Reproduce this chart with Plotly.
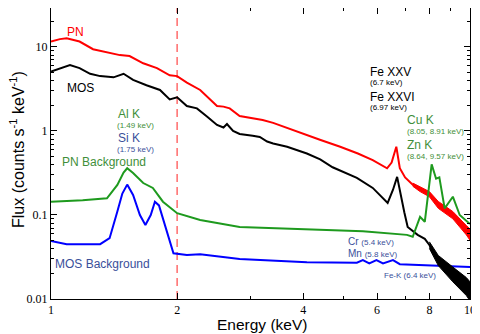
import plotly.graph_objects as go

# ---------------- data ----------------
pn_E = [1.0, 1.05, 1.09, 1.17, 1.26, 1.38, 1.46, 1.54, 1.66, 1.79, 1.92, 2.0, 2.11,
        2.27, 2.40, 2.49, 2.58, 2.67, 2.82, 3.03, 3.2, 3.39, 3.6, 3.93, 4.4, 4.9, 5.4,
        5.86, 6.34, 6.5, 6.67, 6.8, 7.0, 7.3, 7.6, 8.0, 8.4, 9.1, 9.8, 10.0]
pn_F = [11.6, 12.4, 12.7, 11.6, 9.4, 8.4, 8.0, 7.8, 6.4, 5.6, 4.6, 4.5, 3.76,
        3.08, 2.34, 1.98, 1.95, 1.86, 1.51, 1.43, 1.35, 1.25, 1.12, 0.94, 0.78, 0.65, 0.54,
        0.45, 0.36, 0.42, 0.65, 0.36, 0.28, 0.23, 0.2, 0.18, 0.13, 0.10, 0.066, 0.058]

# noise envelope of the PN spectrum at high energy
pn_band_E = [7.3, 7.6, 8.0, 8.4, 9.1, 9.8, 10.0]
pn_band_hi = [0.24, 0.215, 0.19, 0.145, 0.11, 0.075, 0.068]
pn_band_lo = [0.22, 0.19, 0.165, 0.12, 0.09, 0.058, 0.05]

mos_E = [1.0, 1.11, 1.17, 1.24, 1.31, 1.41, 1.49, 1.57, 1.69, 1.82, 1.92, 2.0, 2.11,
         2.23, 2.36, 2.49, 2.58, 2.63, 2.72, 2.82, 3.03, 3.15, 3.28, 3.39, 3.66, 3.93,
         4.08, 4.39, 4.7, 5.37, 5.86, 6.36, 6.55, 6.7, 6.85, 6.97, 7.1, 7.5, 7.8, 8.0,
         8.4, 9.1, 9.8, 10.0]
mos_F = [5.1, 6.1, 5.6, 4.8, 4.5, 4.35, 4.8, 4.05, 3.5, 3.08, 2.38, 2.52, 1.98,
         1.86, 1.48, 1.18, 1.1, 1.21, 1.0, 0.92, 0.88, 0.85, 0.75, 0.71, 0.65, 0.57,
         0.54, 0.46, 0.37, 0.276, 0.21, 0.139, 0.2, 0.284, 0.16, 0.108, 0.072, 0.058, 0.052, 0.044,
         0.028, 0.019, 0.0135, 0.011]

# noise envelope of the MOS spectrum at high energy
mos_band_E = [8.0, 8.4, 9.1, 9.8, 10.0]
mos_band_hi = [0.048, 0.033, 0.024, 0.018, 0.016]
mos_band_lo = [0.040, 0.025, 0.016, 0.011, 0.0095]

pnbg_E = [1.0, 1.19, 1.36, 1.44, 1.49, 1.52, 1.57, 1.66, 1.75, 1.85, 2.0, 2.27, 2.82,
          3.39, 4.46, 5.55, 7.07, 7.3, 7.6, 7.8, 8.1, 8.3, 8.45, 8.7, 9.1, 9.45, 10.0]
pnbg_F = [0.144, 0.15, 0.158, 0.228, 0.32, 0.36, 0.316, 0.24, 0.21, 0.144, 0.105, 0.087, 0.072,
          0.07, 0.066, 0.064, 0.058, 0.055, 0.095, 0.083, 0.40, 0.27, 0.28, 0.12, 0.165, 0.10, 0.078]

mosbg_E = [1.0, 1.09, 1.31, 1.38, 1.44, 1.48, 1.52, 1.57, 1.63, 1.68, 1.73, 1.77, 1.81,
           1.89, 1.96, 2.11, 2.27, 2.82, 4.08, 5.37, 5.55, 5.75, 5.98, 6.2, 6.55, 6.8, 10.0]
mosbg_F = [0.049, 0.045, 0.045, 0.053, 0.11, 0.18, 0.23, 0.173, 0.10, 0.076, 0.10, 0.144, 0.13,
           0.063, 0.035, 0.0335, 0.034, 0.030, 0.0274, 0.027, 0.029, 0.0265, 0.029, 0.0265, 0.029, 0.026, 0.024]

divider_E = [2.0, 2.0]
divider_F = [0.01, 100.0]

x_tickvals = [1, 2, 4, 6, 8, 10]
x_ticktext = ["1", "2", "4", "6", "8", "10"]
x_minor = [3, 5, 7, 9]
y_tickvals = [0.01, 0.1, 1, 10]
y_ticktext = ["0.01", "0.1", "1", "10"]
y_minor = [m * d for d in (0.01, 0.1, 1, 10) for m in range(2, 10)]

RED = "#ff0000"
GREEN = "#1e9a1e"
BLUE = "#0000ff"
LGREEN = "#3f8f3a"
NAVY = "#3a4f9a"

fig = go.Figure()
fig.add_trace(go.Scatter(x=divider_E, y=divider_F, mode="lines",
                         line=dict(color="rgba(255,70,70,0.8)", width=1.5, dash="8px,5px")))
fig.add_trace(go.Scatter(x=mosbg_E, y=mosbg_F, mode="lines", line=dict(color=BLUE, width=2)))
fig.add_trace(go.Scatter(x=mos_band_E + mos_band_E[::-1], y=mos_band_hi + mos_band_lo[::-1],
                         mode="lines", fill="toself", fillcolor="black",
                         line=dict(color="black", width=1)))
fig.add_trace(go.Scatter(x=mos_E, y=mos_F, mode="lines", line=dict(color="black", width=2)))
fig.add_trace(go.Scatter(x=pn_band_E + pn_band_E[::-1], y=pn_band_hi + pn_band_lo[::-1],
                         mode="lines", fill="toself", fillcolor=RED,
                         line=dict(color=RED, width=1)))
fig.add_trace(go.Scatter(x=pn_E, y=pn_F, mode="lines", line=dict(color=RED, width=2)))
fig.add_trace(go.Scatter(x=pnbg_E, y=pnbg_F, mode="lines", line=dict(color=GREEN, width=2)))

# The page body has an 8px margin: the figure is drawn 8px in from the window's corner.
OFF = 8
W, H = 480 - OFF, 334 - OFF
L, R, T, B = 51 - OFF, 10, 0, 35
PLOT_LEFT, PLOT_TOP, PLOT_W, PLOT_H = 51, 8, 419, 291   # in window pixels

def px(xp):
    return (xp - PLOT_LEFT) / PLOT_W

def py(yp):
    return (PLOT_TOP + PLOT_H - yp) / PLOT_H

labels = [
    # (left px, centre py, text, size, colour)  -- window pixels
    (66, 31.5, "PN", 12, RED),
    (66, 88, "MOS", 12, "black"),
    (117, 113.5, "Al K", 12, LGREEN),
    (116, 125.5, "(1.49 keV)", 8, LGREEN),
    (117, 137.5, "Si K", 12, NAVY),
    (116, 149.5, "(1.75 keV)", 8, NAVY),
    (61, 162, "PN Background", 12, LGREEN),
    (54, 264, "MOS Background", 12, NAVY),
    (369, 72, "Fe XXV", 12, "black"),
    (369, 82.5, "(6.7 keV)", 8, "black"),
    (369, 97, "Fe XXVI", 12, "black"),
    (369, 107.5, "(6.97 keV)", 8, "black"),
    (406, 120, "Cu K", 12, LGREEN),
    (406, 131, "(8.05, 8.91 keV)", 8, LGREEN),
    (406, 145, "Zn K", 12, LGREEN),
    (406, 156, "(8.64, 9.57 keV)", 8, LGREEN),
    (347, 241.5, "Cr <span style='font-size:8px'>(5.4 keV)</span>", 10, NAVY),
    (347, 253, "Mn <span style='font-size:8px'>(5.8 keV)</span>", 10, NAVY),
    (383, 275.5, "Fe-K (6.4 keV)", 8, NAVY),
]
for xp, yp, txt, size, col in labels:
    fig.add_annotation(x=px(xp), y=py(yp), xref="paper", yref="paper", text=txt,
                       showarrow=False, xanchor="left", yanchor="middle", borderpad=0,
                       font=dict(family="Liberation Sans, Arial", size=size, color=col))

# axis titles
fig.add_annotation(x=px(262), y=py(324), xref="paper", yref="paper", text="Energy (keV)",
                   showarrow=False, xanchor="center", yanchor="middle",
                   font=dict(family="Liberation Sans, Arial", size=15.5, color="black"))
fig.add_annotation(x=px(17), y=py(150), xref="paper", yref="paper",
                   text="Flux (counts s<sup>-1</sup> keV<sup>-1</sup>)", textangle=-90,
                   showarrow=False, xanchor="center", yanchor="middle", borderpad=0,
                   font=dict(family="Liberation Sans, Arial", size=16, color="black"))

axis_common = dict(showline=True, linecolor="black", linewidth=1, mirror="ticks",
                   ticks="inside", tickcolor="black", showgrid=False, zeroline=False,
                   automargin=False,
                   tickfont=dict(family="Liberation Serif, Times New Roman", size=12, color="black"))

fig.update_xaxes(type="log", range=[0, 1], tickmode="array", tickvals=x_tickvals,
                 ticktext=x_ticktext, ticklen=6,
                 minor=dict(tickmode="array", tickvals=x_minor, ticks="inside", ticklen=3,
                            tickcolor="black", showgrid=False),
                 **axis_common)
fig.update_yaxes(type="log", range=[-2, 1.464], tickmode="array", tickvals=y_tickvals,
                 ticktext=y_ticktext, ticklen=6,
                 minor=dict(tickmode="array", tickvals=y_minor, ticks="inside", ticklen=3,
                            tickcolor="black", showgrid=False),
                 **axis_common)

fig.update_layout(width=W, height=H, margin=dict(l=L, r=R, t=T, b=B, autoexpand=False),
                  paper_bgcolor="white", plot_bgcolor="white", showlegend=False)

fig.write_html("out.html")
